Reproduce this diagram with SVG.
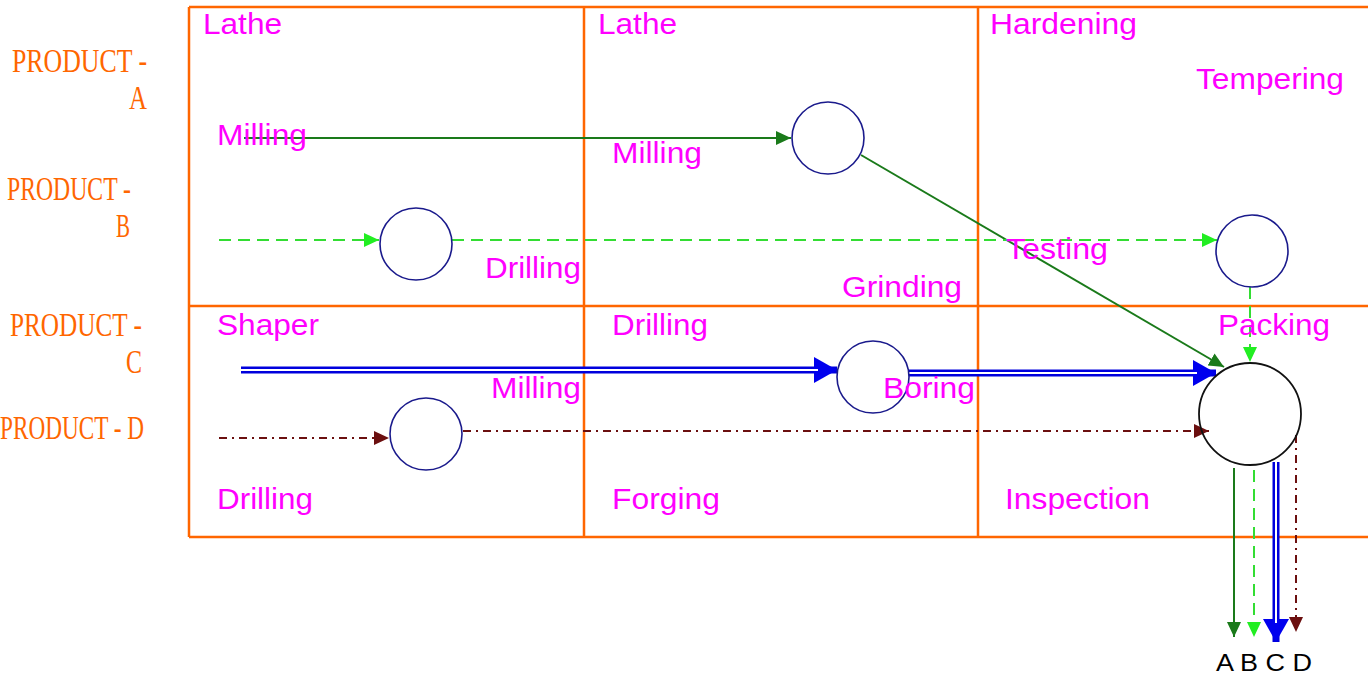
<svg xmlns="http://www.w3.org/2000/svg" width="1368" height="677" viewBox="0 0 1368 677">
<style>
.grid{stroke:#FF6600;stroke-width:2.5;fill:none}
.lbl{font-family:"Liberation Sans",Arial,sans-serif;font-size:29px;fill:#FF00FF}
.prod{font-family:"Liberation Serif","Times New Roman",serif;font-size:33px;fill:#FF6600}
.out{font-family:"Liberation Sans",Arial,sans-serif;font-size:23px;fill:#000}
.node{fill:#fff;stroke:#1a1a8c;stroke-width:1.6}
.ga{stroke:#1a7a1a;stroke-width:2;fill:none}
.gb{stroke:#33dd33;stroke-width:2;fill:none;stroke-dasharray:12 7}
.gc{stroke:#0000dd;stroke-width:7;fill:none}
.gcw{stroke:#fff;stroke-width:2;fill:none}
.gd{stroke:#6b0f0f;stroke-width:2;fill:none;stroke-dasharray:8 5 2 5}
</style>
<defs>
<marker id="mA" markerUnits="userSpaceOnUse" markerWidth="16" markerHeight="14" refX="15" refY="7" orient="auto"><path d="M0,0 L15,7 L0,14 Z" fill="#1a7a1a"/></marker>
<marker id="mB" markerUnits="userSpaceOnUse" markerWidth="16" markerHeight="14" refX="15" refY="7" orient="auto"><path d="M0,0 L15,7 L0,14 Z" fill="#22ee22"/></marker>
<marker id="mC" markerUnits="userSpaceOnUse" markerWidth="24" markerHeight="26" refX="23" refY="13" orient="auto"><path d="M0,0 L23,13 L0,26 Z" fill="#0000ee"/></marker>
<marker id="mD" markerUnits="userSpaceOnUse" markerWidth="16" markerHeight="14" refX="15" refY="7" orient="auto"><path d="M0,0 L15,7 L0,14 Z" fill="#6b0f0f"/></marker>
</defs>
<rect width="1368" height="677" fill="#fff"/>
<g id="grid">
<path class="grid" d="M189,7 H1368 M189,306 H1368 M189,537 H1368 M189,7 V537 M584,7 V537 M978,7 V537"/>
</g>
<g id="product-labels">
<text class="prod" x="12" y="72" textLength="135" lengthAdjust="spacingAndGlyphs">PRODUCT -</text>
<text class="prod" x="129" y="109" textLength="18" lengthAdjust="spacingAndGlyphs">A</text>
<text class="prod" x="7" y="200" textLength="124" lengthAdjust="spacingAndGlyphs">PRODUCT -</text>
<text class="prod" x="116" y="237" textLength="14" lengthAdjust="spacingAndGlyphs">B</text>
<text class="prod" x="10" y="336" textLength="132" lengthAdjust="spacingAndGlyphs">PRODUCT -</text>
<text class="prod" x="126" y="373" textLength="16" lengthAdjust="spacingAndGlyphs">C</text>
<text class="prod" x="0" y="439" textLength="144" lengthAdjust="spacingAndGlyphs">PRODUCT - D</text>
</g>
<g id="connectors">
<line class="ga" x1="244" y1="138" x2="791" y2="138" marker-end="url(#mA)"/>
<line class="ga" x1="861" y1="155" x2="1224" y2="367" marker-end="url(#mA)"/>
<line class="gb" x1="219" y1="240" x2="379" y2="240" marker-end="url(#mB)"/>
<line class="gb" x1="452" y1="240" x2="1217" y2="240" marker-end="url(#mB)"/>
<line class="gb" x1="1250" y1="287" x2="1250" y2="362" marker-end="url(#mB)"/>
<line class="gc" x1="241" y1="370" x2="837" y2="370" marker-end="url(#mC)"/>
<line class="gcw" x1="241" y1="370" x2="818" y2="370"/>
<line class="gc" x1="909" y1="373" x2="1216" y2="373" marker-end="url(#mC)"/>
<line class="gcw" x1="909" y1="373" x2="1197" y2="373"/>
<line class="gd" x1="219" y1="438" x2="389" y2="438" marker-end="url(#mD)"/>
<line class="gd" x1="463" y1="431" x2="1209" y2="431" marker-end="url(#mD)"/>
<line class="ga" x1="1234" y1="468" x2="1234" y2="637" marker-end="url(#mA)"/>
<line class="gb" x1="1254" y1="470" x2="1254" y2="637" marker-end="url(#mB)"/>
<line class="gc" x1="1276" y1="462" x2="1276" y2="642" marker-end="url(#mC)"/>
<line class="gcw" x1="1276" y1="462" x2="1276" y2="623"/>
<line class="gd" x1="1296" y1="435" x2="1296" y2="632" marker-end="url(#mD)"/>
</g>
<g id="node-a"><circle class="node" cx="828" cy="138" r="36"/></g>
<g id="node-b1"><circle class="node" cx="416" cy="244" r="36"/></g>
<g id="node-b2"><circle class="node" cx="1252" cy="251" r="36"/></g>
<g id="node-c"><circle class="node" cx="873" cy="377" r="36"/></g>
<g id="node-d"><circle class="node" cx="426" cy="434" r="36"/></g>
<g id="node-final"><circle cx="1250" cy="414" r="51" fill="none" stroke="#111" stroke-width="1.8"/></g>
<g id="labels">
<text class="lbl" x="203" y="34" textLength="79" lengthAdjust="spacingAndGlyphs">Lathe</text>
<text class="lbl" x="598" y="34" textLength="79" lengthAdjust="spacingAndGlyphs">Lathe</text>
<text class="lbl" x="990" y="34" textLength="147" lengthAdjust="spacingAndGlyphs">Hardening</text>
<text class="lbl" x="1196" y="89" textLength="148" lengthAdjust="spacingAndGlyphs">Tempering</text>
<text class="lbl" x="217" y="145" textLength="90" lengthAdjust="spacingAndGlyphs">Milling</text>
<text class="lbl" x="612" y="163" textLength="90" lengthAdjust="spacingAndGlyphs">Milling</text>
<text class="lbl" x="485" y="278" textLength="96" lengthAdjust="spacingAndGlyphs">Drilling</text>
<text class="lbl" x="842" y="297" textLength="120" lengthAdjust="spacingAndGlyphs">Grinding</text>
<text class="lbl" x="1006" y="259" textLength="102" lengthAdjust="spacingAndGlyphs">Testing</text>
<text class="lbl" x="217" y="335" textLength="102" lengthAdjust="spacingAndGlyphs">Shaper</text>
<text class="lbl" x="612" y="335" textLength="96" lengthAdjust="spacingAndGlyphs">Drilling</text>
<text class="lbl" x="1218" y="335" textLength="112" lengthAdjust="spacingAndGlyphs">Packing</text>
<text class="lbl" x="491" y="398" textLength="90" lengthAdjust="spacingAndGlyphs">Milling</text>
<text class="lbl" x="883" y="398" textLength="92" lengthAdjust="spacingAndGlyphs">Boring</text>
<text class="lbl" x="217" y="509" textLength="96" lengthAdjust="spacingAndGlyphs">Drilling</text>
<text class="lbl" x="612" y="509" textLength="108" lengthAdjust="spacingAndGlyphs">Forging</text>
<text class="lbl" x="1005" y="509" textLength="145" lengthAdjust="spacingAndGlyphs">Inspection</text>
<text class="out" x="1216" y="671" textLength="96" lengthAdjust="spacingAndGlyphs">A B C D</text>
</g>
</svg>
